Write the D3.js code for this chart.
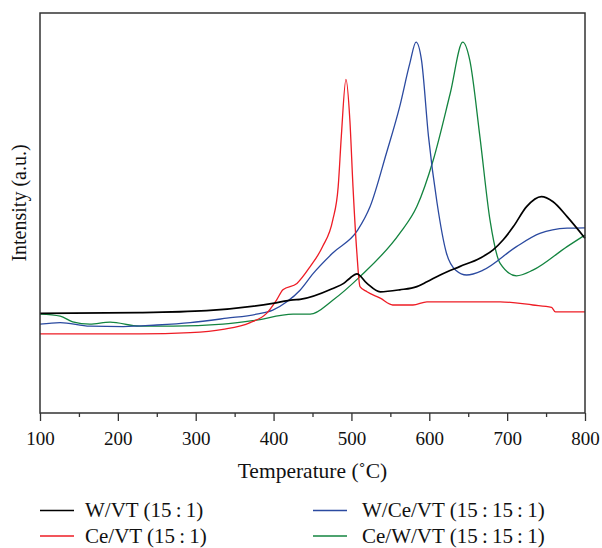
<!DOCTYPE html>
<html>
<head>
<meta charset="utf-8">
<script src="https://cdn.jsdelivr.net/npm/d3@7"></script>
<style>
  body { margin: 0; background: #fff; }
  text { font-family: "Liberation Serif", "Times New Roman", serif; fill: #111; }
</style>
</head>
<body>
<div id="chart"></div>
<script>
// temperatures (°C) and intensities (a.u.)
var wvtT = [100, 228, 314, 399, 425, 434, 477, 490, 498, 507, 520, 537, 562, 584, 597, 614, 639, 665, 682, 695, 708, 725, 744, 759, 777, 800]
var wvtI = [24.9, 25.1, 25.6, 27.4, 28.3, 28.4, 31.2, 32.4, 33.7, 34.8, 32.4, 30.3, 30.8, 31.6, 32.8, 34.5, 36.6, 38.7, 40.8, 43.3, 46.6, 51.6, 54.1, 52.8, 49.1, 43.7]

var cevtT = [100, 228, 293, 335, 370, 391, 404, 412, 430, 447, 463, 476, 483, 487, 493, 498, 502, 507, 511, 520, 537, 553, 579, 597, 691, 733, 757, 762, 800]
var cevtI = [19.8, 19.8, 20.1, 20.9, 22.6, 24.9, 28.3, 30.8, 32.4, 36.6, 41.6, 48.2, 56.6, 69.1, 83.4, 73.2, 56.6, 40, 31.6, 30.3, 28.7, 27, 27, 27.8, 27.8, 27, 26.4, 25.3, 25.3]

var wcevtT = [100, 126, 164, 207, 250, 293, 340, 378, 399, 417, 434, 451, 476, 508, 524, 545, 562, 575, 583, 590, 599, 610, 622, 634, 648, 669, 712, 742, 777, 800]
var wcevtI = [22.2, 22.6, 21.7, 21.6, 22, 22.6, 23.7, 24.7, 25.7, 27.8, 30.7, 34.9, 40, 45.7, 51.6, 65, 76.6, 87.4, 92.7, 88.2, 69.1, 52.5, 40, 35.7, 34.5, 35.7, 41.6, 44.9, 46.2, 46.3]

var cewvtT = [100, 126, 142, 164, 190, 228, 271, 335, 374, 425, 447, 476, 511, 562, 584, 605, 627, 643, 652, 665, 678, 691, 712, 733, 777, 800]
var cewvtI = [24.7, 24.2, 22.8, 22.2, 22.7, 21.7, 21.7, 22.2, 23.1, 24.7, 24.7, 28.2, 34.1, 44.9, 51.6, 63.2, 80, 92.7, 88.2, 69.1, 48.2, 37.4, 34.3, 35.7, 41.6, 44.5]

var seriesNames = ["W/VT (15\u2009:\u20091)", "Ce/VT (15\u2009:\u20091)", "W/Ce/VT (15\u2009:\u200915\u2009:\u20091)", "Ce/W/VT (15\u2009:\u200915\u2009:\u20091)"]
var seriesColors = ["#000000", "#ee1c25", "#2b4aa0", "#13843f"]
var majorTicks = [100, 200, 300, 400, 500, 600, 700, 800]
var minorTicks = [150, 250, 350, 450, 550, 650, 750]

var margin = { top: 13, right: 17, bottom: 135, left: 40 }
var width = 602 - margin.left - margin.right,
    height = 548 - margin.top - margin.bottom

var svg = d3.select("#chart").append("svg")
    .attr("width", 602)
    .attr("height", 548)

var g = svg.append("g")
    .attr("transform", "translate(" + margin.left + "," + margin.top + ")")

var x = d3.scaleLinear().domain([100, 800]).range([0, width])
var y = d3.scaleLinear().domain([0, 100]).range([height, 0])

function pairs(ts, vs) {
  return ts.map(function (t, i) { return [t, vs[i]] })
}

var series = [
  pairs(wvtT, wvtI),
  pairs(cevtT, cevtI),
  pairs(wcevtT, wcevtI),
  pairs(cewvtT, cewvtI)
]

var line = d3.line()
    .x(function (d) { return x(d[0]) })
    .y(function (d) { return y(d[1]) })
    .curve(d3.curveMonotoneX)

// green and blue go under, black last
var order = [3, 2, 1, 0]
g.selectAll(".series")
  .data(order)
  .enter().append("path")
  .attr("class", "series")
  .attr("d", function (i) { return line(series[i]) })
  .attr("fill", "none")
  .attr("stroke", function (i) { return seriesColors[i] })
  .attr("stroke-width", function (i) { return i === 0 ? 1.7 : 1.3 })

// axes
var xAxis = g.append("g")
    .attr("transform", "translate(0," + height + ")")
    .call(d3.axisBottom(x).tickValues(majorTicks).tickSize(8).tickPadding(11).tickFormat(d3.format("d")))
xAxis.select(".domain").remove()
xAxis.selectAll("line").attr("stroke", "#333").attr("stroke-width", 1.3)
xAxis.selectAll("text")
    .attr("font-family", "Liberation Serif, serif")
    .attr("font-size", 19)
    .attr("fill", "#111")

var minor = g.append("g")
    .attr("transform", "translate(0," + height + ")")
    .call(d3.axisBottom(x).tickValues(minorTicks).tickSize(4).tickFormat(""))
minor.select(".domain").remove()
minor.selectAll("line").attr("stroke", "#333").attr("stroke-width", 1.3)

// frame
g.append("rect")
  .attr("width", width)
  .attr("height", height)
  .attr("fill", "none")
  .attr("stroke", "#333")
  .attr("stroke-width", 1.5)

// axis titles
g.append("text")
  .attr("x", width / 2)
  .attr("y", height + 65)
  .attr("text-anchor", "middle")
  .attr("font-size", 21.5)
  .text("Temperature (\u02DAC)")

svg.append("text")
  .attr("transform", "translate(26,203) rotate(-90)")
  .attr("text-anchor", "middle")
  .attr("font-size", 20)
  .text("Intensity (a.u.)")

// legend
var legendPos = [[40, 510.5], [40, 536], [313, 510.5], [313, 536]]
var legend = svg.selectAll(".legend")
  .data([0, 1, 2, 3])
  .enter().append("g")
  .attr("class", "legend")
  .attr("transform", function (i) { return "translate(" + legendPos[i][0] + "," + legendPos[i][1] + ")" })

legend.append("line")
  .attr("x1", 0).attr("x2", 34)
  .attr("stroke", function (i) { return seriesColors[i] })
  .attr("stroke-width", 1.3)

legend.append("text")
  .attr("x", function (i) { return i < 2 ? 45 : 49 })
  .attr("y", 6.5)
  .attr("font-size", 21)
  .text(function (i) { return seriesNames[i] })
</script>
</body>
</html>
